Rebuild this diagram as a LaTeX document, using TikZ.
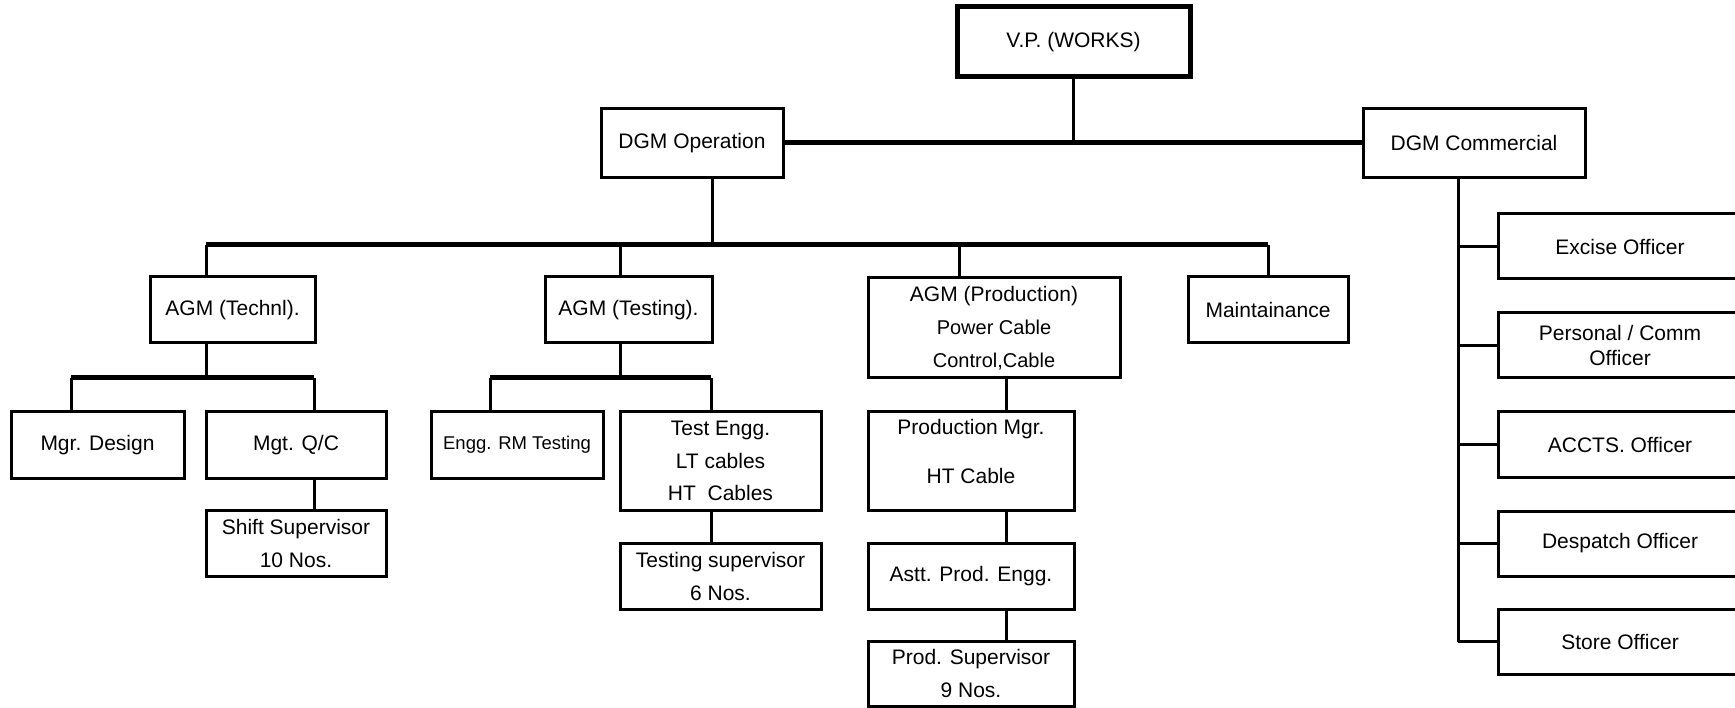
\documentclass[tikz,border=0pt]{standalone}
\usepackage{fontspec}
\setmainfont{Liberation Sans}
\begin{document}
\begin{tikzpicture}[x=1pt,y=-1pt,
  box/.style={draw, line width=3pt, inner sep=0pt, align=center, font=\fontsize{21}{33}\selectfont},
  rbox/.style={box, minimum width=244pt, minimum height=65pt},
  txt/.style={inner sep=0pt, align=center, font=\fontsize{21}{33}\selectfont},
  conn/.style={line width=3pt},
  barline/.style={line width=5pt}]
\useasboundingbox (0,0) rectangle (1735,708);
\clip (0,0) rectangle (1735,708);
% top level
\node[box, line width=5pt, minimum width=233pt, minimum height=70pt] (vp) at (1073.5,42) {V.P. (WORKS)};
\node[box, minimum width=182pt, minimum height=69pt] (dgmop) at (692,143) {DGM Operation};
\node[box, minimum width=222pt, minimum height=69pt] (dgmcom) at (1474,143) {DGM Commercial};
% AGM row
\node[box, minimum width=165pt, minimum height=66pt] (agmt) at (232.5,310) {AGM (Technl).};
\node[box, minimum width=167pt, minimum height=66pt] (agmtest) at (628.5,310) {AGM (Testing).};
\node[box, minimum width=252pt, minimum height=100pt] (agmprod) at (994,328) {AGM (Production)\\{\fontsize{20}{33}\selectfont Power Cable}\\{\fontsize{20}{33}\selectfont Control,Cable}};
\node[box, minimum width=160pt, minimum height=66pt] (maint) at (1268,310) {Maintainance};
% technical
\node[box, minimum width=173pt, minimum height=66pt] (mgrd) at (97.5,445) {Mgr. Design};
\node[box, minimum width=180pt, minimum height=66pt] (mgtqc) at (296,445) {Mgt. Q/C};
\node[box, minimum width=180pt, minimum height=66pt] (shift) at (296,543) {Shift Supervisor\\10 Nos.};
% testing
\node[box, minimum width=172pt, minimum height=66pt, font=\fontsize{18.5}{22}\selectfont] (enggrm) at (517,445) {Engg. RM Testing};
\node[box, minimum width=201pt, minimum height=98pt, font=\fontsize{21}{32.5}\selectfont] (testengg) at (720.5,461) {Test Engg.\\LT cables\\HT~~Cables};
\node[box, minimum width=201pt, minimum height=66pt] (testsup) at (720.5,576) {Testing supervisor\\6 Nos.};
% production
\node[box, minimum width=206pt, minimum height=98pt] (prodmgr) at (971,461) {};
\node[txt] (prodmgrtxt) at ([yshift=10pt]prodmgr.center) {Production Mgr.\\[16pt]HT Cable};
\node[box, minimum width=206pt, minimum height=66pt] (astt) at (971,576) {Astt. Prod. Engg.};
\node[box, minimum width=206pt, minimum height=65pt] (prodsup) at (971,673.5) {Prod. Supervisor\\9 Nos.};
% commercial
\node[rbox] (excise) at (1620,246.5) {Excise Officer};
\node[rbox, font=\fontsize{21}{24.5}\selectfont] (personal) at (1620,345.5) {Personal / Comm\\Officer};
\node[rbox] (accts) at (1620,444.5) {ACCTS. Officer};
\node[rbox] (despatch) at (1620,543.5) {Despatch Officer};
\node[rbox] (store) at (1620,641.5) {Store Officer};
% junction coordinates
\coordinate (j0) at (712,245);
\coordinate (j1) at (206,245);
\coordinate (j2) at (620,245);
\coordinate (j3) at (959,245);
\coordinate (j4) at (1268,245);
\coordinate (t0) at (206,378);
\coordinate (tL) at (71,378);
\coordinate (tR) at (314,378);
\coordinate (s0) at (620,378);
\coordinate (sL) at (490,378);
\coordinate (sR) at (711,378);
\coordinate (pc) at (1006,395);
\coordinate (cc) at (1458,400);
% connectors
\draw[conn] (vp.south) -- (vp.south |- dgmop.east);
\draw[barline] (dgmop.east) -- (dgmcom.west);
\draw[conn] (j0 |- dgmop.south) -- (j0);
\draw[barline] (j1) -- (j4);
\draw[conn] (j1) -- (j1 |- agmt.north);
\draw[conn] (j2) -- (j2 |- agmtest.north);
\draw[conn] (j3) -- (j3 |- agmprod.north);
\draw[conn] (j4) -- (maint.north);
% technical branch
\draw[conn] (t0 |- agmt.south) -- (t0);
\draw[barline] (tL) -- (tR);
\draw[conn] (tL) -- (tL |- mgrd.north);
\draw[conn] (tR) -- (tR |- mgtqc.north);
\draw[conn] (tR |- mgtqc.south) -- (tR |- shift.north);
% testing branch
\draw[conn] (s0 |- agmtest.south) -- (s0);
\draw[barline] (sL) -- (sR);
\draw[conn] (sL) -- (sL |- enggrm.north);
\draw[conn] (sR) -- (sR |- testengg.north);
\draw[conn] (sR |- testengg.south) -- (sR |- testsup.north);
% production branch
\draw[conn] (pc |- agmprod.south) -- (pc |- prodmgr.north);
\draw[conn] (pc |- prodmgr.south) -- (pc |- astt.north);
\draw[conn] (pc |- astt.south) -- (pc |- prodsup.north);
% commercial branch
\draw[conn] (cc |- dgmcom.south) -- (cc |- store.west);
\draw[conn] (cc |- excise.west) -- (excise.west);
\draw[conn] (cc |- personal.west) -- (personal.west);
\draw[conn] (cc |- accts.west) -- (accts.west);
\draw[conn] (cc |- despatch.west) -- (despatch.west);
\draw[conn] (cc |- store.west) -- (store.west);
\end{tikzpicture}
\end{document}
